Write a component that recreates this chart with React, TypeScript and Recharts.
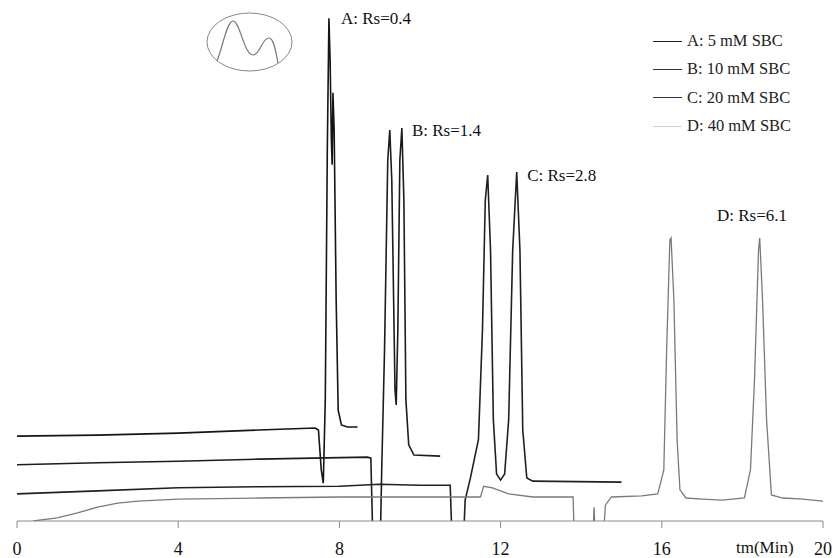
import React from 'react';
import { LineChart, Line, XAxis, YAxis, ReferenceDot } from 'recharts';

// retention time (min) and detector signal (arbitrary units)
const aTime = [0, 2, 4, 6, 7.4, 7.48, 7.55, 7.6, 7.65, 7.7, 7.74, 7.77, 7.8, 7.82, 7.84, 7.87, 7.92, 7.97, 8.05, 8.2, 8.45];
const aSignal = [16.6, 16.8, 17.2, 17.8, 18.2, 17.8, 10, 7.4, 23.7, 72.6, 98.4, 90, 74.6, 69.7, 83.8, 76.5, 43, 21.7, 18.8, 18.4, 18.4];

const bTime = [0, 2, 4, 6, 8.7, 8.78, 8.85, 8.9, 9.0, 9.05, 9.12, 9.2, 9.25, 9.3, 9.38, 9.41, 9.45, 9.5, 9.55, 9.6, 9.65, 9.72, 9.85, 10.5];
const bSignal = [11.0, 11.4, 11.7, 12.1, 12.5, 12.3, -10, -10, -10, 10, 33.5, 70.6, 76.5, 66.7, 25.6, 22.7, 37.4, 70.6, 76.9, 62.8, 23.7, 14.9, 12.9, 12.7];

const cTime = [0, 2, 4, 6, 8, 9, 10, 10.75, 10.82, 11.05, 11.12, 11.25, 11.45, 11.55, 11.62, 11.68, 11.75, 11.82, 11.9, 12.0, 12.1, 12.2, 12.3, 12.4, 12.48, 12.55, 12.65, 12.8, 15.0];
const cSignal = [5.3, 5.9, 6.5, 6.7, 6.8, 7.2, 7.0, 7.0, -10, -10, 4.1, 8.4, 15.9, 37.4, 62.8, 67.7, 53, 19.8, 9.2, 8.0, 9.2, 19.8, 53, 68.3, 53, 17.8, 8.4, 7.8, 7.6];

const dTime = [0.4, 1.0, 1.5, 2.0, 2.5, 3.0, 4.0, 6, 8, 10, 11.5, 11.58, 11.8, 12.2, 12.8, 13.8, 13.85, 14.25, 14.32, 14.38, 14.5, 14.6, 14.75, 15.5, 15.9, 16.05, 16.12, 16.2, 16.23, 16.3, 16.38, 16.45, 16.6, 17.0, 17.5, 18.05, 18.2, 18.3, 18.4, 18.43, 18.5, 18.6, 18.72, 19.0, 19.5, 20];
const dSignal = [0, 0.6, 1.6, 2.7, 3.5, 3.9, 4.3, 4.5, 4.7, 4.7, 4.7, 6.8, 6.5, 5.3, 4.7, 4.7, -10, -10, 2.7, -10, -10, 3.1, 4.7, 4.9, 5.3, 10, 33.5, 55, 55.4, 43.2, 15.9, 6.1, 4.5, 4.3, 4.1, 4.5, 10, 27.6, 53, 55.4, 43.2, 19.8, 5.1, 4.5, 4.3, 3.9];

const xTicks = [0, 4, 8, 12, 16, 20];

const seriesNames = ['A: 5 mM SBC', 'B: 10 mM SBC', 'C: 20 mM SBC', 'D: 40 mM SBC'];
const seriesColors = ['#151515', '#1c1c1c', '#202020', '#7a7a7a'];
const legendColors = ['#222', '#333', '#333', '#d0d0d0'];

const rsLabels = ['A: Rs=0.4', 'B: Rs=1.4', 'C: Rs=2.8', 'D: Rs=6.1'];
const rsTime = [8.04, 9.8, 12.66, 17.37];
const rsSignal = [98.4, 76.5, 67.7, 59.9];

const FONT = '"Liberation Serif", "Times New Roman", Tinos, serif';

const toRows = (t: number[], s: number[]) => t.map((x, i) => ({ t: x, v: s[i] }));
const traces = [toRows(aTime, aSignal), toRows(bTime, bSignal), toRows(cTime, cSignal), toRows(dTime, dSignal)];

function LegendBox() {
  return (
    <div style={{ position: 'absolute', left: 653, top: 27, fontFamily: FONT, fontSize: 16.5, color: '#222' }}>
      {seriesNames.map((n, i) => (
        <div key={n} style={{ display: 'flex', alignItems: 'center', height: 28.3, whiteSpace: 'nowrap' }}>
          <span style={{ display: 'inline-block', width: 29, borderTop: `1.5px solid ${legendColors[i]}`, marginRight: 5 }} />
          <span>{n}</span>
        </div>
      ))}
    </div>
  );
}

export default function App() {
  return (
    <div style={{ position: 'relative', width: 833, height: 558, fontFamily: FONT, overflow: 'hidden' }}>
      <style>{'body { margin: 0; }'}</style>
      <LineChart width={833} height={558} margin={{ top: 10, right: 10, bottom: 7, left: 17 }}>
        <XAxis
          type="number"
          dataKey="t"
          domain={[0, 20]}
          ticks={xTicks}
          height={30}
          stroke="#8a8a8a"
          tickSize={7}
          tickMargin={14}
          tick={{ fill: '#111', fontFamily: FONT, fontSize: 18 }}
          allowDataOverflow
        />
        <YAxis hide domain={[0, 100]} allowDataOverflow />
        {traces.map((d, i) => (
          <Line
            key={seriesNames[i]}
            data={d}
            dataKey="v"
            name={seriesNames[i]}
            type="linear"
            stroke={seriesColors[i]}
            strokeWidth={i === 3 ? 1.3 : 1.6}
            dot={false}
            isAnimationActive={false}
          />
        ))}
        {rsLabels.map((txt, i) => (
          <ReferenceDot
            key={txt}
            x={rsTime[i]}
            y={rsSignal[i]}
            r={0}
            ifOverflow="visible"
            shape={(p: any) => (
              <text x={p.cx} y={p.cy} dy="0.35em" fill="#111" fontFamily={FONT} fontSize={17}>
                {txt}
              </text>
            )}
          />
        ))}
      </LineChart>
      <LegendBox />
      <div style={{ position: 'absolute', left: 736, top: 538, fontFamily: FONT, fontSize: 17, color: '#111' }}>
        tm(Min)
      </div>
      <svg style={{ position: 'absolute', left: 0, top: 0 }} width={300} height={90}>
        <ellipse cx={249.5} cy={42} rx={42.5} ry={29} fill="none" stroke="#888" strokeWidth={1} />
        <path
          d="M217,61 C223,46 227,21 233,21 C240,21 244,55 253,55 C260,55 262,38 269,38 C274,38 276,53 278,63"
          fill="none"
          stroke="#777"
          strokeWidth={1.2}
        />
      </svg>
    </div>
  );
}
